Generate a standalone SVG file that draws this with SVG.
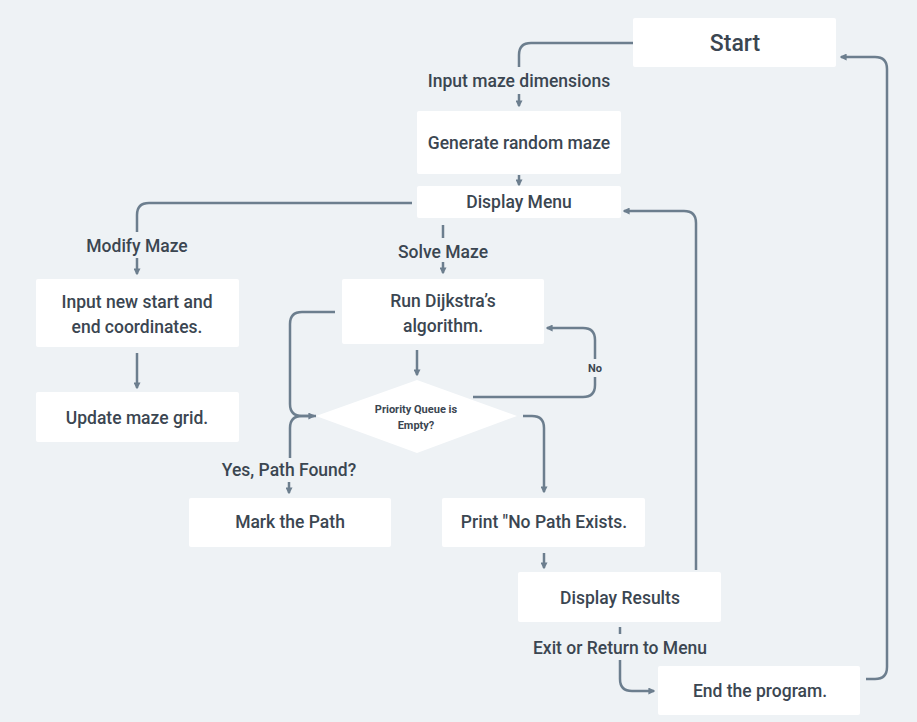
<svg xmlns="http://www.w3.org/2000/svg" width="917" height="722" viewBox="0 0 917 722">
<style>
.bg{fill:#eef2f5}
.box{fill:#ffffff}
.t{font-family:Roboto,"Liberation Sans",Arial,sans-serif;font-size:17.5px;font-weight:500;fill:#3b4651;text-anchor:middle;dominant-baseline:central}
.lbl{font-family:Roboto,"Liberation Sans",Arial,sans-serif;font-size:17.5px;font-weight:500;fill:#3b4651;text-anchor:middle;dominant-baseline:central}
.small{font-family:Roboto,"Liberation Sans",Arial,sans-serif;font-size:11px;font-weight:bold;fill:#3b4651;text-anchor:middle;dominant-baseline:central}
.c{fill:none;stroke:#6c7e8e;stroke-width:2.5}
.a{fill:none;stroke:#6c7e8e;stroke-width:2.5;marker-end:url(#ah)}
</style>
<defs>
<marker id="ah" viewBox="0 0 10 10" refX="8" refY="5" markerWidth="7" markerHeight="7" markerUnits="userSpaceOnUse" orient="auto">
<path d="M0,0 L10,5 L0,10 z" fill="#6c7e8e"/>
</marker>
</defs>
<rect class="bg" x="0" y="0" width="917" height="722"/>

<g id="connectors">
<path class="c" d="M633,43 H531 Q519,43 519,55 V67"/>
<path class="a" d="M519,94 V106"/>
<path class="a" d="M519,175 V185"/>
<path class="c" d="M412,203 H149 Q137,203 137,215 V232"/>
<path class="a" d="M137,258 V274"/>
<path class="a" d="M137,353 V388"/>
<path class="c" d="M443,225 V238"/>
<path class="a" d="M443,262 V273"/>
<path class="a" d="M417,350 V375"/>
<path class="c" d="M473,397 H583 Q595,397 595,385 V377"/>
<path class="a" d="M595,359 V340 Q595,328 583,328 H547"/>
<path class="a" d="M335,312 H302 Q290,312 290,324 V404 Q290,416 302,416 H314"/>
<path class="c" d="M316,416 H302 Q290,416 290,428 V458"/>
<path class="a" d="M289,482 V493"/>
<path class="a" d="M523,416 H532 Q544,416 544,428 V492"/>
<path class="a" d="M544,553 V568"/>
<path class="a" d="M696,570 V223 Q696,211 684,211 H624"/>
<path class="c" d="M620,627 V634"/>
<path class="a" d="M620,660 V679 Q620,691 632,691 H654"/>
<path class="a" d="M866,679 H875 Q887,679 887,667 V69 Q887,57 875,57 H841"/>
<text class="lbl" x="519" y="81">Input maze dimensions</text>
<text class="lbl" x="137" y="246">Modify Maze</text>
<text class="lbl" x="443" y="252">Solve Maze</text>
<text class="small" x="595" y="368">No</text>
<text class="lbl" x="289" y="470">Yes, Path Found?</text>
<text class="lbl" x="620" y="648">Exit or Return to Menu</text>
</g>

<g id="start">
<rect class="box" x="633" y="18" width="203" height="49" rx="2"/>
<text class="t" x="735" y="43" style="font-size:23px">Start</text>
</g>
<g id="generate">
<rect class="box" x="417" y="111" width="204" height="63" rx="2"/>
<text class="t" x="519" y="143">Generate random maze</text>
</g>
<g id="menu">
<rect class="box" x="417" y="186" width="204" height="32" rx="2"/>
<text class="t" x="519" y="202">Display Menu</text>
</g>
<g id="input-coords">
<rect class="box" x="36" y="279" width="203" height="68" rx="2"/>
<text class="t" x="137" y="302">Input new start and</text>
<text class="t" x="137" y="327">end coordinates.</text>
</g>
<g id="update">
<rect class="box" x="36" y="392" width="203" height="50" rx="2"/>
<text class="t" x="137" y="418">Update maze grid.</text>
</g>
<g id="dijkstra">
<rect class="box" x="342" y="279" width="202" height="65" rx="2"/>
<text class="t" x="443" y="301">Run Dijkstra’s</text>
<text class="t" x="443" y="326">algorithm.</text>
</g>
<g id="decision">
<polygon class="box" points="417,380 517,416 417,453 316,416"/>
<text class="small" x="416" y="409">Priority Queue is</text>
<text class="small" x="416" y="425">Empty?</text>
</g>
<g id="mark">
<rect class="box" x="189" y="498" width="202" height="49" rx="2"/>
<text class="t" x="290" y="522">Mark the Path</text>
</g>
<g id="nopath">
<rect class="box" x="442" y="498" width="203" height="49" rx="2"/>
<text class="t" x="544" y="522">Print "No Path Exists.</text>
</g>
<g id="results">
<rect class="box" x="518" y="572" width="203" height="50" rx="2"/>
<text class="t" x="620" y="598">Display Results</text>
</g>
<g id="end">
<rect class="box" x="658" y="666" width="202" height="49" rx="2"/>
<text class="t" x="760" y="691">End the program.</text>
</g>
</svg>
